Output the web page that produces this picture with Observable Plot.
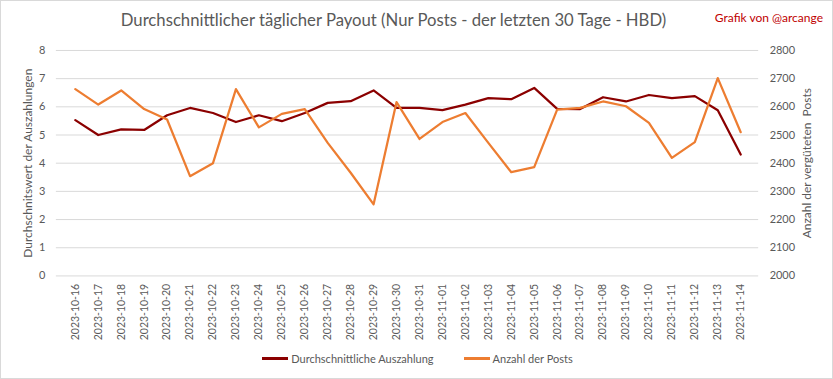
<!DOCTYPE html>
<html>
<head>
<meta charset="utf-8">
<script src="https://cdn.jsdelivr.net/npm/d3@7"></script>
<script src="https://cdn.jsdelivr.net/npm/@observablehq/plot@0.6"></script>
<style>
  html, body { margin: 0; padding: 0; background: #fff; }
  #chart { position: relative; width: 833px; height: 379px; box-sizing: border-box; border: 1px solid #d9d9d9; font-family: Lato, "Open Sans", sans-serif; overflow: hidden; }
  #title { position: absolute; left: 0; width: 785px; top: 9px; text-align: center; font-size: 16.7px; color: #595959; }
  #credit { position: absolute; right: 9px; top: 9px; font-size: 12px; color: #C00000; }
  #plot { position: absolute; left: -1px; top: 34px; }
  #legend { position: absolute; left: 0; width: 833px; top: 348px; text-align: center; font-size: 11px; color: #595959; }
  .item { display: inline-flex; align-items: center; margin: 0 15px; }
  .sw { display: inline-block; width: 26px; height: 3px; margin-right: 3px; }
</style>
</head>
<body>
<div id="chart">
  <div id="title">Durchschnittlicher täglicher Payout (Nur Posts - der letzten 30 Tage - HBD)</div>
  <div id="credit">Grafik von @arcange</div>
  <div id="plot"></div>
  <div id="legend"></div>
</div>
<script>
const dates = ["2023-10-16","2023-10-17","2023-10-18","2023-10-19","2023-10-20","2023-10-21","2023-10-22","2023-10-23","2023-10-24","2023-10-25","2023-10-26","2023-10-27","2023-10-28","2023-10-29","2023-10-30","2023-10-31","2023-11-01","2023-11-02","2023-11-03","2023-11-04","2023-11-05","2023-11-06","2023-11-07","2023-11-08","2023-11-09","2023-11-10","2023-11-11","2023-11-12","2023-11-13","2023-11-14"];
const payout = [5.53, 5.0, 5.2, 5.18, 5.7, 5.96, 5.78, 5.46, 5.7, 5.49, 5.78, 6.14, 6.2, 6.58, 5.96, 5.96, 5.88, 6.08, 6.31, 6.27, 6.67, 5.93, 5.92, 6.34, 6.19, 6.42, 6.31, 6.38, 5.88, 4.31];
const posts = [2663, 2608, 2658, 2592, 2555, 2354, 2400, 2663, 2527, 2575, 2592, 2472, 2366, 2254, 2617, 2486, 2546, 2578, 2472, 2368, 2386, 2590, 2596, 2619, 2602, 2543, 2419, 2475, 2702, 2510];
const leftTicks = [0, 1, 2, 3, 4, 5, 6, 7, 8];
const rightTicks = [2000, 2100, 2200, 2300, 2400, 2500, 2600, 2700, 2800];
const seriesNames = ["Durchschnittliche Auszahlung", "Anzahl der Posts"];
const colors = ["#8B0000", "#ED7D31"];
const leftLabel = "Durchschnitswert der Auszahlungen";
const rightLabel = "Anzahl der vergüteten  Posts";

const data = dates.map((d, i) => ({date: d, payout: payout[i], posts: posts[i]}));
const toLeft = v => (v - 2000) / 100;

const chart = Plot.plot({
  width: 834,
  height: 312,
  marginLeft: 56,
  marginRight: 74,
  marginTop: 15,
  marginBottom: 71,
  style: {fontFamily: "Lato, 'Open Sans', sans-serif", fontSize: "11px", color: "#595959", background: "transparent", overflow: "visible"},
  x: {type: "point", domain: dates, padding: 0.5},
  y: {domain: [0, 8]},
  marks: [
    Plot.ruleY(leftTicks, {stroke: "#d9d9d9", strokeWidth: 1}),
    Plot.axisX({tickRotate: -90, tickSize: 0, tickPadding: 8, label: null, fill: "#595959", fontSize: 10.5}),
    Plot.axisY({ticks: leftTicks, tickSize: 0, tickPadding: 11, label: null, fill: "#595959"}),
    Plot.axisY({anchor: "right", ticks: leftTicks, tickFormat: (d, i) => String(rightTicks[i]), tickSize: 0, tickPadding: 11, label: null, fill: "#595959"}),
    Plot.text([leftLabel], {text: d => d, frameAnchor: "left", textAnchor: "middle", dx: -28, rotate: -90, fontSize: 12, fill: "#595959"}),
    Plot.text([rightLabel], {text: d => d, frameAnchor: "right", textAnchor: "middle", dx: 49, rotate: -90, fontSize: 12, fill: "#595959"}),
    Plot.line(data, {x: "date", y: "payout", stroke: colors[0], strokeWidth: 2.25, strokeLinejoin: "round"}),
    Plot.line(data, {x: "date", y: d => toLeft(d.posts), stroke: colors[1], strokeWidth: 2.25, strokeLinejoin: "round"})
  ]
});
document.getElementById("plot").appendChild(chart);

const legend = document.getElementById("legend");
seriesNames.forEach((n, i) => {
  const it = document.createElement("span");
  it.className = "item";
  const sw = document.createElement("span");
  sw.className = "sw";
  sw.style.background = colors[i];
  it.appendChild(sw);
  it.appendChild(document.createTextNode(n));
  legend.appendChild(it);
});
</script>
</body>
</html>
